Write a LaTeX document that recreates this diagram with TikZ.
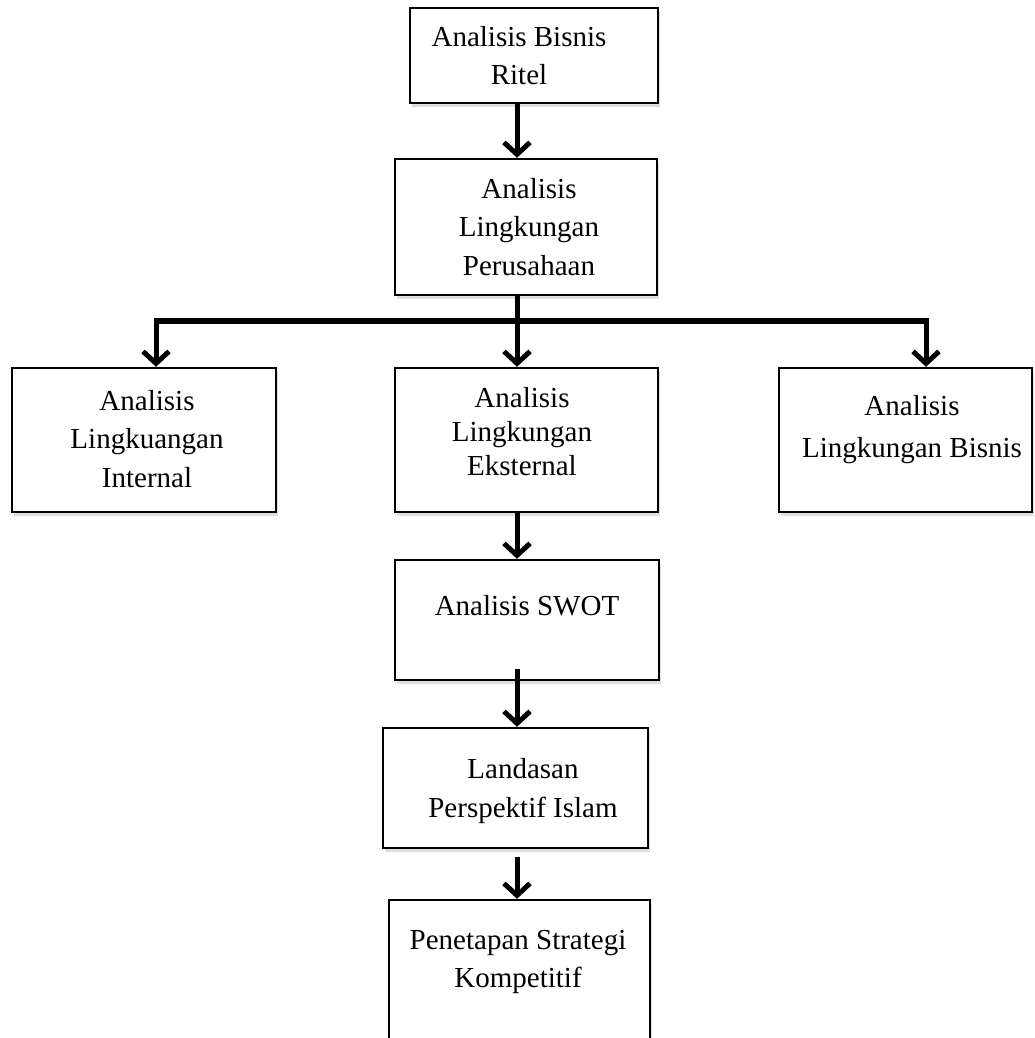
\documentclass[tikz,border=0pt]{standalone}
\usepackage{fontspec}
\setmainfont{Liberation Serif}
\usetikzlibrary{arrows.meta,calc,shadows}

\begin{document}
\begin{tikzpicture}[
  x=1pt,
  y=-1pt,
  stage/.style={draw=black, fill=white, line width=2.4pt, inner sep=0pt,
    drop shadow={shadow xshift=1.5pt, shadow yshift=-4pt, opacity=0.25}},
  stagetext/.style={anchor=north, align=center, inner sep=0pt,
    font=\fontsize{29}{38.5}\selectfont},
  flow/.style={line width=5pt, -{Straight Barb[length=12pt,width=26pt]}},
  branch/.style={line width=6.5pt}
]
\useasboundingbox (0,0) rectangle (1035,1038);

% Main chain of analysis steps.
\node[stage, minimum width=248pt, minimum height=95pt] (ritel) at (534,55.5) {};
\node[stagetext] (ritelT) at (519,26) {Analisis Bisnis\\Ritel};

\node[stage, minimum width=262pt, minimum height=136pt] (perus) at (526,227) {};
\node[stagetext] (perusT) at (529,178) {Analisis\\Lingkungan\\Perusahaan};

% The three environment analyses.
\node[stage, minimum width=264pt, minimum height=144pt] (internal) at (144,440) {};
\node[stagetext] (internalT) at (147,390) {Analisis\\Lingkuangan\\Internal};

\node[stage, minimum width=263pt, minimum height=144pt] (eksternal) at (526.5,440) {};
\node[stagetext, font=\fontsize{29}{34}\selectfont] (eksternalT) at (522,387)
  {Analisis\\Lingkungan\\Eksternal};

\node[stage, minimum width=253pt, minimum height=144pt] (bisnis) at (905.5,440) {};
\node[stagetext, font=\fontsize{29}{42}\selectfont] (bisnisT) at (912,395)
  {Analisis\\Lingkungan Bisnis};

% SWOT and what follows from it.
\node[stage, minimum width=264pt, minimum height=120pt] (swot) at (527,620) {};
\node[stagetext] (swotT) at (527,595) {Analisis SWOT};

\node[stage, minimum width=265pt, minimum height=120pt] (landasan) at (515.5,788) {};
\node[stagetext, font=\fontsize{29}{39}\selectfont] (landasanT) at (523,758)
  {Landasan\\Perspektif Islam};

\node[stage, minimum width=261pt, minimum height=200pt] (strategi) at (519.5,1000) {};
\node[stagetext] (strategiT) at (518,930) {Penetapan Strategi\\Kompetitif};

% Connectors.
\coordinate (spine) at (517,0);
\coordinate (barL) at (156,321);
\coordinate (barR) at (926,321);

\draw[flow] (spine |- ritel.south) -- (spine |- perus.north);
\draw[flow] (spine |- perus.south) -- (spine |- eksternal.north);
\draw[branch] (barL) -- (barR);
\draw[flow] ($(barL)+(0,-3)$) -- (barL |- internal.north);
\draw[flow] ($(barR)+(0,-3)$) -- (barR |- bisnis.north);
\draw[flow] (spine |- eksternal.south) -- (spine |- swot.north);
\draw[flow] ($(spine |- swot.south)+(0,-12)$) -- (spine |- landasan.north);
\draw[flow] ($(spine |- landasan.south)+(0,8)$) -- (spine |- strategi.north);
\end{tikzpicture}
\end{document}
